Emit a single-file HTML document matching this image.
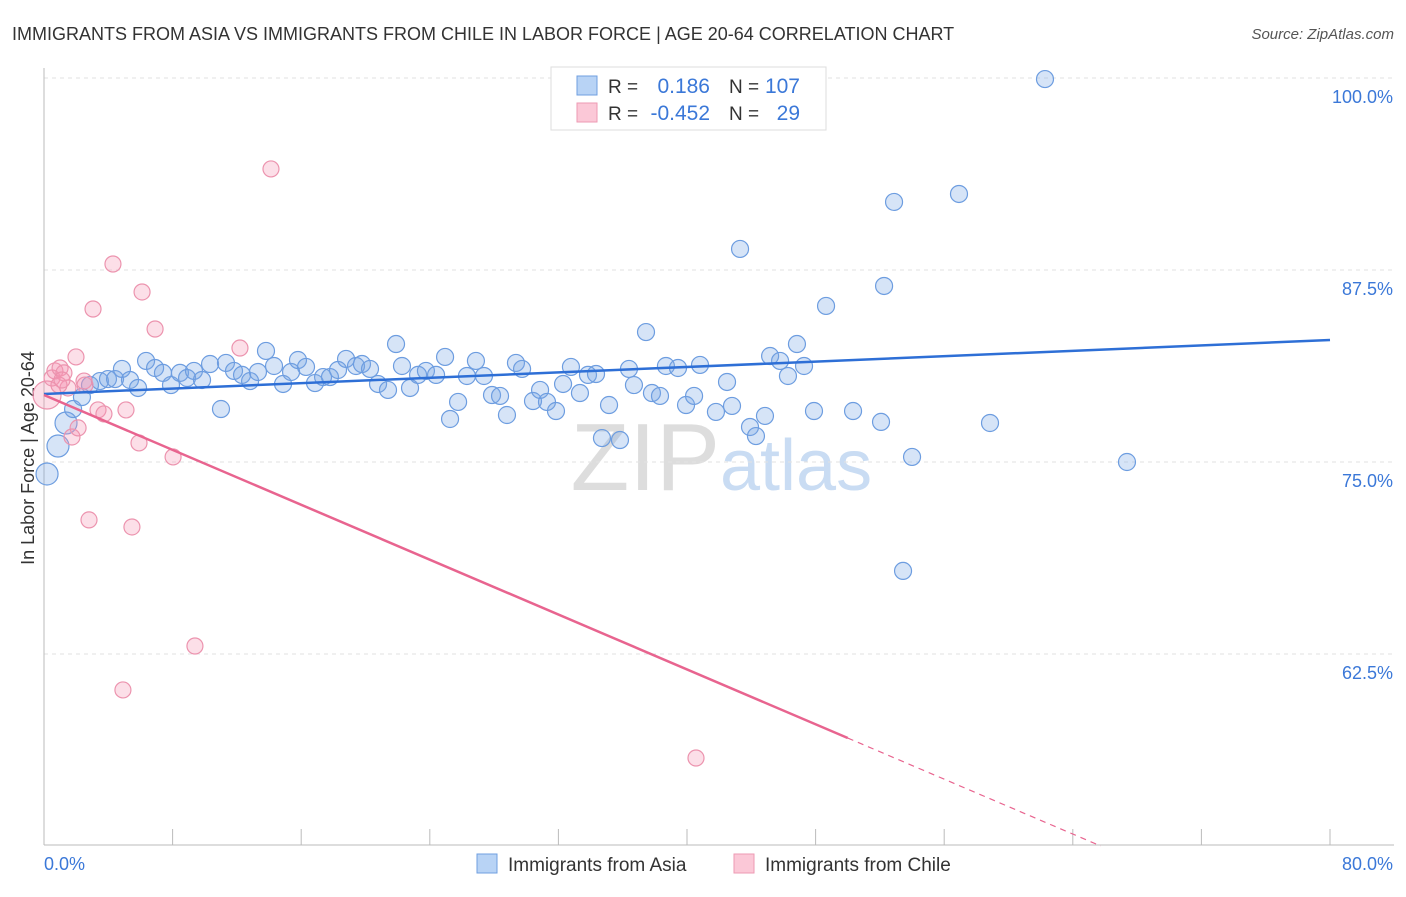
<!DOCTYPE html>
<html><head><meta charset="utf-8"><style>
body{margin:0;background:#fff;font-family:"Liberation Sans",sans-serif;}
svg text{font-family:"Liberation Sans",sans-serif;}
</style></head><body>
<svg id="chart" width="1406" height="892">
<text x="12" y="40" font-size="18" fill="#333">IMMIGRANTS FROM ASIA VS IMMIGRANTS FROM CHILE IN LABOR FORCE | AGE 20-64 CORRELATION CHART</text>
<text x="1394" y="39" font-size="15" fill="#555" font-style="italic" text-anchor="end">Source: ZipAtlas.com</text>
<text transform="translate(34,458) rotate(-90)" font-size="18" fill="#333" text-anchor="middle">In Labor Force | Age 20-64</text>
<text x="720" y="490" font-size="96" font-family="Liberation Serif" fill="#ddd" text-anchor="end">ZIP</text>
<text x="720" y="490" font-size="72" fill="#c9dcf3">atlas</text>
<g id="grid"></g><g id="axes"></g><g id="blue"></g><g id="pink"></g><g id="lines"></g>
<g>
<rect x="551" y="67" width="275" height="63" fill="#fff" stroke="#ddd"/>
<rect x="577" y="76" width="20" height="19" fill="#b8d3f5" stroke="#6f9fe0"/>
<rect x="577" y="103" width="20" height="19" fill="#fbc8d7" stroke="#ee9ab3"/>
<text x="608" y="93" font-size="19" fill="#333">R =</text><text x="710" y="93" font-size="21" fill="#3b78d8" text-anchor="end">0.186</text>
<text x="729" y="93" font-size="19" fill="#333">N =</text><text x="800" y="93" font-size="21" fill="#3b78d8" text-anchor="end">107</text>
<text x="608" y="120" font-size="19" fill="#333">R =</text><text x="710" y="120" font-size="21" fill="#3b78d8" text-anchor="end">-0.452</text>
<text x="729" y="120" font-size="19" fill="#333">N =</text><text x="800" y="120" font-size="21" fill="#3b78d8" text-anchor="end">29</text>
</g>
<g>
<rect x="477" y="854" width="20" height="19" fill="#b8d3f5" stroke="#6f9fe0"/>
<text x="508" y="871" font-size="19" fill="#333">Immigrants from Asia</text>
<rect x="734" y="854" width="20" height="19" fill="#fbc8d7" stroke="#ee9ab3"/>
<text x="765" y="871" font-size="19" fill="#333">Immigrants from Chile</text>
</g>
</svg>
<script>
const yTicks=[100,87.5,75,62.5];
const yTickLabels=["100.0%","87.5%","75.0%","62.5%"];
const xTicks=[0,8,16,24,32,40,48,56,64,72,80];
const xEdgeLabels=["0.0%","80.0%"];
const asiaX=[0.19,0.87,1.37,1.81,2.36,2.86,3.48,3.98,4.42,4.85,5.35,5.85,6.35,6.91,7.40,7.90,8.46,8.90,9.33,9.83,10.33,11.01,11.32,11.82,12.32,12.82,13.31,13.81,14.31,14.87,15.37,15.80,16.30,16.86,17.36,17.79,18.29,18.79,19.41,19.78,20.28,20.78,21.40,21.90,22.27,22.77,23.27,23.76,24.39,24.95,25.26,25.76,26.31,26.87,27.37,27.87,28.37,28.80,29.36,29.74,30.42,30.86,31.29,31.85,32.29,32.78,33.34,33.84,34.34,34.71,35.15,35.83,36.39,36.70,37.45,37.82,38.32,38.69,39.44,39.94,40.44,40.81,41.80,42.49,42.80,43.30,43.92,44.29,44.85,45.17,45.79,46.28,46.84,47.28,47.90,48.09,48.65,50.33,52.07,52.26,52.88,54.00,53.44,56.92,58.85,62.27,67.37];
const asiaY=[74.22,76.04,77.54,78.45,79.23,80.01,80.27,80.40,80.40,81.06,80.34,79.82,81.58,81.12,80.80,80.01,80.80,80.47,80.93,80.34,81.38,78.45,81.45,80.93,80.67,80.27,80.86,82.23,81.25,80.08,80.86,81.64,81.19,80.14,80.53,80.53,80.99,81.71,81.25,81.38,81.06,80.08,79.69,82.68,81.25,79.82,80.67,80.93,80.67,81.84,77.80,78.91,80.60,81.58,80.60,79.36,79.30,78.06,81.45,81.06,78.97,79.69,78.91,78.32,80.08,81.19,79.49,80.67,80.73,76.56,78.71,76.43,81.06,80.01,83.46,79.49,79.30,81.25,81.12,78.71,79.30,81.32,78.26,80.21,78.65,88.87,77.28,76.69,78.00,81.90,81.58,80.60,82.68,81.25,78.32,99.93,85.16,78.32,77.61,86.46,91.93,75.33,67.91,92.45,77.54,99.93,75.00];
const chileX=[0.19,0.50,0.68,1.00,1.24,1.49,1.74,2.12,1.99,2.49,2.80,3.05,3.36,3.73,4.29,4.91,5.10,5.47,5.91,6.10,6.91,8.03,9.39,12.19,14.12,40.56,0.93,1.12,2.55];
const chileY=[79.36,80.47,80.93,81.12,80.80,79.82,76.63,77.22,81.84,80.27,71.23,84.96,78.39,78.13,87.89,60.16,78.39,70.77,76.24,86.07,83.66,75.33,63.02,82.42,94.08,55.73,80.01,80.34,80.01];
const asiaTrend=[79.43,82.94];
const chileTrend=[79.36,-0.4466];
const NS="http://www.w3.org/2000/svg";
const X=v=>44+v/80*1286, Y=v=>78+(100-v)/12.5*192;
function mk(tag,attrs,parent){const e=document.createElementNS(NS,tag);for(const k in attrs)e.setAttribute(k,attrs[k]);parent.appendChild(e);return e;}
const grid=document.getElementById('grid'),axes=document.getElementById('axes');
yTicks.forEach((t,i)=>{
 const l=mk('line',{x1:44,x2:1394,y1:Y(t),y2:Y(t),stroke:'#e2e2e2','stroke-dasharray':'4,4'},grid);
 
 
 const tx=mk('text',{x:1393,y:Y(t)+25,'font-size':18,fill:'#3b78d8','text-anchor':'end'},axes);
 tx.textContent=yTickLabels[i];
 
 
});
const xa=mk('line',{x1:44,x2:1394,y1:845,y2:845,stroke:'#bbb'},axes);


const ya=mk('line',{x1:44,x2:44,y1:68,y2:845,stroke:'#bbb'},axes);


xTicks.forEach(t=>{const l=mk('line',{x1:X(t),x2:X(t),y1:829,y2:845,stroke:'#bbb'},axes);
 
 });
const xl0=mk('text',{x:44,y:870,'font-size':18,fill:'#3b78d8'},axes);xl0.textContent=xEdgeLabels[0];


const xl1=mk('text',{x:1393,y:870,'font-size':18,fill:'#3b78d8','text-anchor':'end'},axes);xl1.textContent=xEdgeLabels[1];


const gb=document.getElementById('blue'),gp=document.getElementById('pink');
asiaX.forEach((x,i)=>{const c=mk('circle',{cx:X(x),cy:Y(asiaY[i]),r:x<1.5?11:8.5,fill:'rgba(120,165,230,0.3)',stroke:'#6d9de0','stroke-width':1.2},gb);
 
 });
chileX.forEach((x,i)=>{const c=mk('circle',{cx:X(x),cy:Y(chileY[i]),r:i==0?14:8,fill:'rgba(245,150,180,0.3)',stroke:'#ec93ae','stroke-width':1.2},gp);
 
 });
const gl=document.getElementById('lines');
const bl=mk('line',{x1:X(0),y1:Y(asiaTrend[0]),x2:X(80),y2:Y(asiaTrend[1]),stroke:'#2e6fd6','stroke-width':2.5},gl);


const pe=50,pz=(chileTrend[0]-50)/-chileTrend[1];
const pl=mk('line',{x1:X(0),y1:Y(chileTrend[0]),x2:X(pe),y2:Y(chileTrend[0]+chileTrend[1]*pe),stroke:'#e8648f','stroke-width':2.5},gl);


const pd=mk('line',{x1:X(pe),y1:Y(chileTrend[0]+chileTrend[1]*pe),x2:X(pz),y2:Y(50),stroke:'#e8648f','stroke-width':1.2,'stroke-dasharray':'6,5'},gl);


</script>
</body></html>
